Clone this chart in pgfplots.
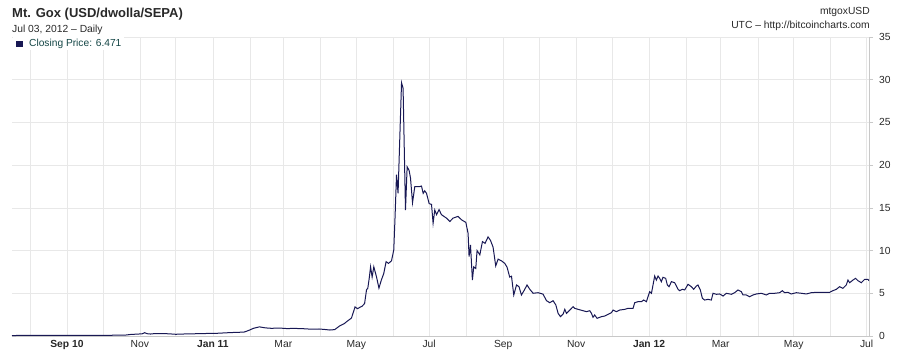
\documentclass[border=0pt]{standalone}
\usepackage{pgfplots}
\pgfplotsset{compat=1.18}
\usepackage{fontspec}
\setmainfont{Liberation Sans}
\definecolor{navyline}{RGB}{24,24,84}
\definecolor{txtgray}{RGB}{40,40,40}
\definecolor{legtxt}{RGB}{20,70,70}
\definecolor{gridc}{RGB}{232,232,232}
\definecolor{axc}{RGB}{200,200,200}
\begin{document}
\begin{tikzpicture}
\path[use as bounding box] (0,0) rectangle (898pt,357pt);
\begin{axis}[
  at={(12pt,21pt)}, anchor=south west,
  scale only axis, width=857pt, height=299pt,
  xmin=0, xmax=717, ymin=0, ymax=35,
  axis x line*=bottom, axis y line*=right,
  axis line style={axc, line width=0.8pt, -},
  xtick={46,107,168,227,288,349,411,472,533,593,654,715},
  xticklabels={\textbf{Sep 10},Nov,\textbf{Jan 11},Mar,May,Jul,Sep,Nov,\textbf{Jan 12},Mar,May,Jul},
  minor xtick={15,76,137,199,258,319,380,441,502,564,624,685},
  xmajorgrids, xminorgrids, ymajorgrids,
  major grid style={gridc, line width=0.6pt},
  minor grid style={gridc, line width=0.6pt},
  x tick style={draw=none}, minor x tick style={draw=none},
  ytick={0,5,...,35},
  y tick style={axc, line width=0.6pt},
  major tick length=4pt,
  tick align=outside,
  xticklabel style={font=\fontsize{10.3}{12}\selectfont, text=txtgray, yshift=3pt},
  yticklabel style={font=\fontsize{10.3}{12}\selectfont, text=txtgray, xshift=2.5pt},
  /pgf/number format/assume math mode=true,
  clip=true,
]
\addplot[navyline, line width=1pt] coordinates {
(0,0.05) (8,0.07) (15,0.07) (25,0.065) (35,0.06) (46,0.065) (60,0.062) (76,0.065)
(88,0.1) (95,0.11) (100,0.19) (105,0.22) (109,0.26) (111,0.39) (113,0.27) (116,0.23)
(119,0.28) (125,0.28) (131,0.26) (137,0.2) (142,0.23) (150,0.25) (157,0.28) (165,0.3)
(172,0.32) (180,0.38) (188,0.43) (194,0.45) (198,0.65) (202,0.9) (207,1.07) (212,0.95)
(217,0.9) (224,0.93) (230,0.87) (236,0.89) (243,0.86) (250,0.8) (257,0.82) (262,0.76)
(266,0.70) (270,0.75) (274,1.17) (278,1.45) (280,1.68) (284,2.1) (287,3.4) (289,3.2)
(291,3.35) (293,3.5) (295,3.8) (296.6,5.4) (297.7,5.6) (299,6.9) (300,8.1) (301.3,6.9)
(302.7,8.1) (305,6.9) (307,5.6) (309,6.55) (311,7.3) (313,8.7) (315,8.5) (317.5,8.8)
(319.4,10.07) (320.5,14) (321.7,18.9) (323,16.7) (325.9,29.65) (327.2,29.0) (329.2,14.75)
(330.6,19.8) (332.2,19.4) (333.4,18.5) (335.1,15.6) (337,17.5) (341.2,17.5) (342.6,17.55)
(344,16.7) (345.3,17.0) (346.8,16.7) (349,15.5) (351,15.4) (352.3,13.2) (353.7,14.75)
(355.2,14.2) (357.3,14.8) (359.3,14.2) (363.5,13.8) (366.3,13.4) (369,13.8) (373.2,14.0)
(376.1,13.6) (379.7,13.3) (381.6,12.0) (382.4,9.3) (383.6,10.65) (385.2,6.55) (386.3,8.1)
(388,7.9) (389.1,10.0) (391.4,9.5) (393.6,11.05) (395.8,10.85) (398.3,11.6) (400.3,11.2)
(402.5,10.4) (404.7,8.2) (406.7,9.0) (409.5,8.8) (412.3,8.5) (414.2,8.05) (416.4,6.9)
(417.9,7.0) (419.8,4.8) (422.1,5.97) (424.2,5.77) (426.2,4.8) (428.2,5.27) (430.9,5.97)
(433.2,5.47) (436,5.0) (440.1,5.07) (444.3,4.9) (447.2,4.13) (449.9,3.9) (452.7,4.13)
(455,3.63) (456.9,2.65) (458.9,2.26) (461.1,2.57) (462.5,3.12) (463.9,2.65) (466.7,3.04)
(469.4,3.43) (470.8,3.24) (473.6,3.12) (477.8,2.96) (480.6,2.85) (483.4,2.96) (484.8,2.65)
(486.1,2.19) (487.5,2.46) (489.5,2.07) (493.1,2.26) (495.9,2.34) (498.7,2.54) (501.5,2.73)
(502.9,3.04) (505.7,2.85) (508.5,3.04) (512.7,3.12) (515.4,3.24) (519.6,3.24) (521,3.9)
(523.8,4.02) (526.6,4.02) (528.5,4.21) (530.8,4.02) (532.1,4.6) (533.5,5.19) (535,5.0)
(536.3,5.97) (537.7,7.02) (539.1,6.55) (540.5,7.02) (541.9,6.75) (543.3,6.36) (544.6,6.87)
(546.9,6.75) (548.3,5.97) (549.7,5.77) (551.7,6.36) (554.4,6.24) (557.2,5.47) (558.6,5.3)
(560.9,5.47) (562.8,5.39) (565.6,6.05) (568.4,5.77) (570.3,5.47) (572.6,5.85) (573.9,5.97)
(575.9,5.39) (577.6,4.41) (579.5,4.21) (582.3,4.29) (585.1,4.21) (586.5,5.0) (589.3,4.88)
(592.1,4.92) (594.9,4.68) (597.7,5.0) (601.9,4.88) (604.6,5.07) (607.4,5.39) (610.2,5.19)
(611.6,4.8) (614.4,4.8) (617.2,4.6) (619.9,4.8) (622.8,4.92) (627,5.0) (631.1,4.8)
(633.9,5.0) (638.1,5.0) (642.3,5.07) (644.5,5.3) (646.4,5.07) (649.2,5.11) (652,4.92)
(656.2,5.07) (660.4,5.0) (664.6,4.92) (668.7,5.07) (672.9,5.11) (678.5,5.11) (684.1,5.11)
(686.8,5.3) (689.7,5.47) (692.4,5.77) (695.2,5.58) (698,5.97) (699.4,6.55) (700.8,6.24)
(703.6,6.55) (705.8,6.75) (707.8,6.47) (710.6,6.24) (713.4,6.64) (716.1,6.64) (717,6.471)
};
\end{axis}
% legend box
\fill[white] (12.5pt,307pt) rectangle (124pt,319.5pt);
\fill[navyline] (16pt,309.7pt) rectangle (22.7pt,316.3pt);
\node[anchor=base west, inner sep=0pt, text=legtxt, font=\fontsize{10.2}{12}\selectfont] at (29pt,310pt) {Closing Price: 6.471};
% titles
\node[anchor=base west, inner sep=0pt, text=txtgray, font=\fontsize{13}{15}\selectfont\bfseries] at (12pt,339.5pt) {Mt. Gox (USD/dwolla/SEPA)};
\node[anchor=base west, inner sep=0pt, text=txtgray, font=\fontsize{10.3}{12}\selectfont] at (12pt,324pt) {Jul 03, 2012 -- Daily};
\node[anchor=base east, inner sep=0pt, text=txtgray, font=\fontsize{10.3}{12}\selectfont] at (870pt,342.5pt) {mtgoxUSD};
\node[anchor=base east, inner sep=0pt, text=txtgray, font=\fontsize{10.3}{12}\selectfont] at (870pt,328.5pt) {UTC -- http://bitcoincharts.com};
\end{tikzpicture}
\end{document}
